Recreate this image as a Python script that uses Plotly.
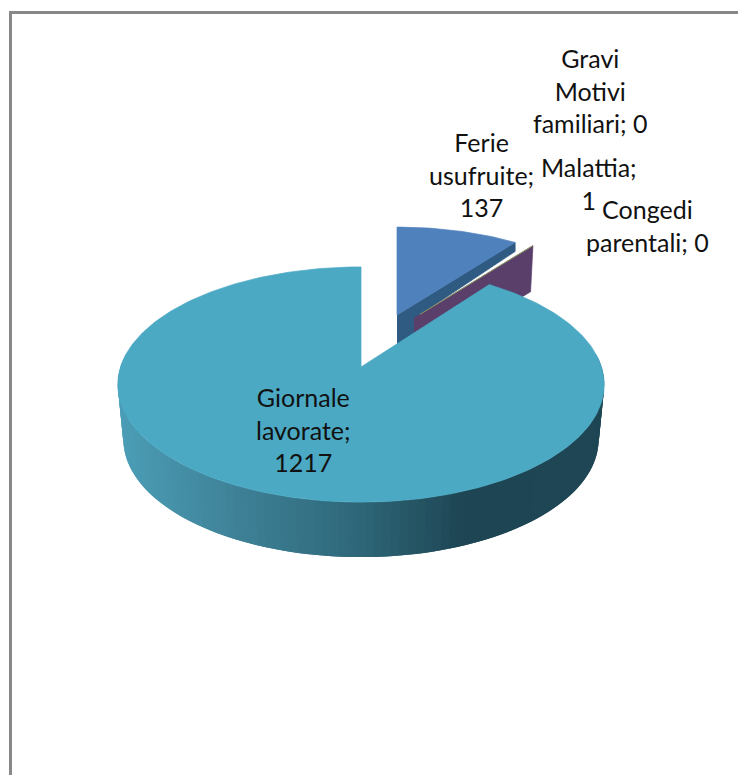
import numpy as np
import plotly.graph_objects as go

categories = ["Ferie usufruite", "Malattia", "Congedi parentali", "Gravi Motivi familiari", "Giornale lavorate"]
values = [137, 1, 0, 0, 1217]
label_lines = [["Ferie", "usufruite;", "137"], ["Malattia;", "1"], ["Congedi", "parentali; 0"],
               ["Gravi", "Motivi", "familiari; 0"], ["Giornale", "lavorate;", "1217"]]

WIDTH, HEIGHT = 738, 775
K = 0.149
FONT = "Lato"

total = sum(values)
edges = np.concatenate([[0], np.cumsum(values)]) / total * 2 * np.pi


def project(theta, apex, a, b):
    """Perspective view of a unit-circle point at clockwise angle theta."""
    theta = np.asarray(theta, dtype=float)
    u, v = -np.cos(theta), np.sin(theta)
    d = 1 - K * u
    return apex[0] + b * v / d, apex[1] + a * u / d


def poly(x, y, color, width=0.7):
    return go.Scatter(x=list(x), y=list(y), mode="lines", fill="toself", fillcolor=color,
                      line=dict(color=color, width=width), hoverinfo="skip", showlegend=False)


def hex_rgb(c):
    return np.array([int(c[i:i + 2], 16) for i in (1, 3, 5)], dtype=float)


side_stops_x = [118, 240, 360, 470, 603]
side_stops_c = ["#4C9FB8", "#3F8298", "#2F687A", "#1E4553", "#1F4755"]


def side_color(x):
    rgb = [np.interp(x, side_stops_x, [hex_rgb(c)[i] for c in side_stops_c]) for i in range(3)]
    return "rgb(%d,%d,%d)" % tuple(rgb)


fig = go.Figure()

# Ferie usufruite: exploded slice, inner face then top
f_top, f_a, f_b = (397, 315), 101, 223
t0, t1 = edges[0], edges[1]
rx, ry = project(t1, f_top, f_a, f_b)
fig.add_trace(poly([f_top[0], rx, rx, 415, 415, f_top[0]], [f_top[1], ry, ry + 9, 318, 345, 350], "#2F5A82"))
th = np.linspace(t0, t1, 40)
ax, ay = project(th, f_top, f_a, f_b)
fig.add_trace(poly([f_top[0], *ax, f_top[0]], [f_top[1], *ay, f_top[1]], "#4F81BD"))

# Malattia: thin slice, only its radial face shows
m_top, m_low = (414, 318), (414, 362)
t_m = edges[2]
tx, ty = project(t_m, m_top, f_a, f_b)
lx, ly = project(t_m, m_low, f_a * 0.97, f_b * 0.98)
fig.add_trace(poly([m_top[0], tx, lx, m_low[0]], [m_top[1], ty, ly, m_low[1]], "#5A3F6B"))
# the two empty slices collapse to a hairline on its top edge
zx, zy = project(edges[4], m_top, f_a, f_b)
fig.add_trace(go.Scatter(x=[m_top[0] + 0.05 * (zx - m_top[0]), zx], y=[m_top[1] + 0.05 * (zy - m_top[1]), zy],
                         mode="lines", line=dict(color="#8C9A62", width=1), hoverinfo="skip", showlegend=False))

# Giornale lavorate: side wall, then top
apex_top, a_top, b_top = (361, 367), 115, 240.5
apex_low, a_low, b_low = (361, 422), 115, 235
grid = np.linspace(3 * np.pi / 2 + 0.12, np.pi / 2 - 0.12, 110)
for t_a, t_b in zip(grid[:-2], grid[2:]):
    seg = np.array([t_a, t_b])
    x1, y1 = project(seg, apex_top, a_top, b_top)
    x2, y2 = project(seg[::-1], apex_low, a_low, b_low)
    xs = [*x1, *x2]
    fig.add_trace(poly(xs, [*y1, *y2], side_color(np.mean(xs)), width=0))

th = np.linspace(edges[4], edges[5], 300)
mx, my = project(th, apex_top, a_top, b_top)
fig.add_trace(poly([apex_top[0], *mx, apex_top[0]], [apex_top[1], *my, apex_top[1]], "#4BA9C4"))

# labels
label_pos = [(481, 174), (589, 183), (647, 225), (590, 90), (303, 429)]
for lines, (x, y) in zip(label_lines, label_pos):
    fig.add_annotation(x=x, y=y, text="<br>".join(lines), showarrow=False,
                       xanchor="center", yanchor="middle", align="center",
                       font=dict(family=FONT, size=25, color="#111111"))

# chart frame
frame = dict(type="line", line=dict(color="#888888", width=3))
fig.add_shape(x0=10.5, x1=10.5, y0=11, y1=775, **frame)
fig.add_shape(x0=9, x1=738, y0=12.5, y1=12.5, **frame)

fig.update_xaxes(range=[0, WIDTH], visible=False, fixedrange=True)
fig.update_yaxes(range=[HEIGHT, 0], visible=False, fixedrange=True)
fig.update_layout(width=WIDTH, height=HEIGHT, margin=dict(l=0, r=0, t=0, b=0),
                  paper_bgcolor="white", plot_bgcolor="white", showlegend=False)
fig.write_html("out.html", config=dict(displayModeBar=False),
               post_script="document.body.style.margin='0';document.body.style.overflow='hidden';")
